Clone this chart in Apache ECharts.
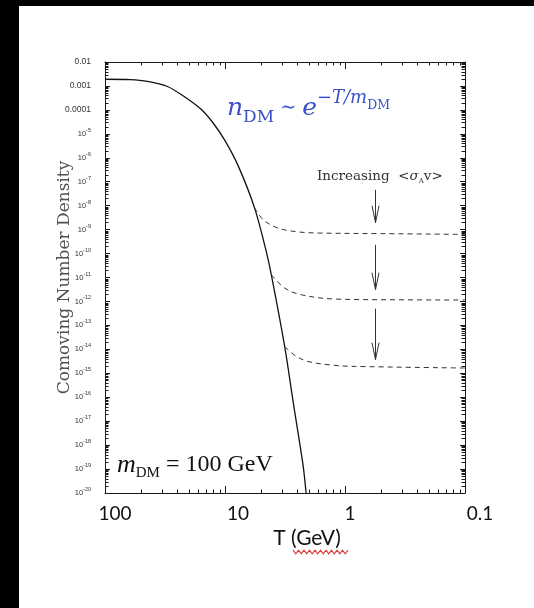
<!DOCTYPE html>
<html>
<head>
<meta charset="utf-8">
<script src="https://cdn.jsdelivr.net/npm/echarts@6/dist/echarts.min.js"></script>
<style>
  html, body { margin: 0; padding: 0; background: #000; }
  #chart { width: 534px; height: 608px; }
</style>
</head>
<body>
<div id="chart"></div>
<script>
// Equilibrium comoving number density versus temperature (GeV), m_DM = 100 GeV
const eqTemp    = [100, 61.4, 44.2, 30.2, 21.9, 15.9, 12.6, 10.0, 7.78, 5.68, 4.57, 4.11, 3.18, 2.69, 2.23, 2.11];
const eqDensity = [1.9e-3, 1.84e-3, 1.56e-3, 9.5e-4, 3.63e-4, 1.08e-4, 2.9e-5, 5.2e-6, 4.7e-7, 8.3e-9, 1.45e-10, 1.3e-11, 1.3e-14, 5.4e-17, 1.3e-19, 1.0e-20];

// Freeze-out branches, from the smallest to the largest <sigma v>
const fo1Temp    = [5.68, 4.81, 3.62, 2.49, 1.67, 0.49, 0.1];
const fo1Density = [8.3e-9, 2.6e-9, 1.16e-9, 8.1e-10, 7.2e-10, 6.8e-10, 6.3e-10];
const fo2Temp    = [4.11, 3.18, 2.31, 1.21, 0.335, 0.1];
const fo2Density = [1.3e-11, 3.6e-12, 1.9e-12, 1.26e-12, 1.17e-12, 1.15e-12];
const fo3Temp    = [3.18, 2.59, 2.03, 1.29, 0.88, 0.1];
const fo3Density = [1.3e-14, 5.4e-15, 3.1e-15, 2.2e-15, 1.95e-15, 1.66e-15];

// Arrows showing the trend with increasing cross-section
const arrowTemp  = [0.56, 0.56, 0.56];
const arrowFrom  = [4.6e-8, 2.3e-10, 5e-13];
const arrowTo    = [1.95e-9, 3.1e-12, 3.7e-15];

// Axis ticks
const tempTicks      = [100, 10, 1, 0.1];
const tempTickLabels = ['100', '10', '1', '0.1'];
const densityMinExp  = -20;
const densityMaxExp  = -2;

const lg = Math.log10;
const toPoints = (xs, ys) => xs.map((x, i) => [lg(x), lg(ys[i])]);

// Minor ticks: the plot was made in x = m/T, so minor ticks sit at T = 100/k per decade
const tickItems = [];
[100, 10, 1].forEach(top => {
  for (let k = 2; k <= 9; k++) tickItems.push([lg(top / k), densityMinExp, 0]);
});
for (let e = densityMinExp; e < densityMaxExp; e++) {
  for (let k = 2; k <= 9; k++) tickItems.push([0, lg(k * Math.pow(10, e)), 1]);
}

function densityLabel(v) {
  const e = Math.round(v);
  if (e === -2) return '0.01';
  if (e === -3) return '0.001';
  if (e === -4) return '0.0001';
  return '{b|10}{e|' + String(e) + '}';
}

const tickLabelShift = ['t0', 't1', 't2', 't3'];
function tempLabel(v) {
  const i = tempTicks.map(lg).findIndex(t => Math.abs(t - v) < 1e-6);
  if (i < 0) return '';
  return '{' + tickLabelShift[i] + '|' + tempTickLabels[i] + '}';
}

const frame = { show: true, onZero: false, lineStyle: { color: '#1a1a1a', width: 1 } };
const tempRange = { type: 'value', min: -1, max: 2, interval: 1, inverse: true };
const densRange = { type: 'value', min: densityMinExp, max: densityMaxExp, interval: 1 };
const serifBlue = '#3b50c8';

const chart = echarts.init(document.getElementById('chart'), null, { renderer: 'canvas' });

const option = {
  backgroundColor: '#ffffff',
  animation: false,
  grid: { left: 105, right: 69, top: 62, bottom: 115 },
  xAxis: [
    Object.assign({}, tempRange, {
      position: 'bottom',
      axisLine: frame,
      axisTick: { inside: true, length: 7, lineStyle: { color: '#1a1a1a' } },
      splitLine: { show: false },
      axisLabel: {
        margin: 11, formatter: tempLabel,
        color: '#111', fontFamily: 'Lato', fontSize: 19,
        rich: {
          t0: { padding: [0, 0, 0, 20], fontFamily: 'Lato', fontSize: 19, color: '#111' },
          t1: { padding: [0, 0, 0, 26], fontFamily: 'Lato', fontSize: 19, color: '#111' },
          t2: { padding: [0, 0, 0, 10], fontFamily: 'Lato', fontSize: 19, color: '#111' },
          t3: { padding: [0, 0, 0, 30], fontFamily: 'Lato', fontSize: 19, color: '#111' }
        }
      },
      name: 'T (GeV)', nameLocation: 'middle', nameGap: 32,
      nameTextStyle: { fontFamily: 'Lato', fontSize: 21, color: '#111', padding: [0, 0, 0, 44] }
    }),
    Object.assign({}, tempRange, {
      position: 'top',
      axisLine: frame,
      axisTick: { inside: true, length: 7, lineStyle: { color: '#1a1a1a' } },
      axisLabel: { show: false },
      splitLine: { show: false }
    })
  ],
  yAxis: [
    Object.assign({}, densRange, {
      position: 'left',
      axisLine: frame,
      axisTick: { inside: true, length: 5, lineStyle: { color: '#1a1a1a' } },
      splitLine: { show: false },
      axisLabel: {
        margin: 14, formatter: densityLabel,
        color: '#333', fontFamily: 'Liberation Sans', fontSize: 8.5,
        rich: {
          b: { fontFamily: 'Liberation Sans', fontSize: 7.5, lineHeight: 13, color: '#333' },
          e: { fontFamily: 'Liberation Sans', fontSize: 5.5, lineHeight: 6, verticalAlign: 'top', color: '#333' }
        }
      },
      name: 'Comoving Number Density', nameLocation: 'middle', nameGap: 31.5, nameMoveOverlap: false,
      nameTextStyle: { fontFamily: 'DejaVu Serif', fontSize: 17, color: '#505050' }
    }),
    Object.assign({}, densRange, {
      position: 'right',
      axisLine: frame,
      axisTick: { inside: true, length: 5, lineStyle: { color: '#1a1a1a' } },
      axisLabel: { show: false },
      splitLine: { show: false }
    })
  ],
  series: [
    {
      name: 'equilibrium', type: 'line', data: toPoints(eqTemp, eqDensity),
      showSymbol: false, smooth: 0.3, lineStyle: { color: '#111', width: 1.3 }
    },
    {
      name: 'freeze-out 1', type: 'line', data: toPoints(fo1Temp, fo1Density),
      showSymbol: false, smooth: 0.35, lineStyle: { color: '#333', width: 1, type: [5, 4] }
    },
    {
      name: 'freeze-out 2', type: 'line', data: toPoints(fo2Temp, fo2Density),
      showSymbol: false, smooth: 0.35, lineStyle: { color: '#333', width: 1, type: [5, 4] }
    },
    {
      name: 'freeze-out 3', type: 'line', data: toPoints(fo3Temp, fo3Density),
      showSymbol: false, smooth: 0.35, lineStyle: { color: '#333', width: 1, type: [5, 4] }
    },
    {
      name: 'arrows', type: 'custom',
      data: arrowTemp.map((t, i) => [lg(t), lg(arrowFrom[i]), lg(arrowTo[i])]),
      encode: { x: 0, y: [1, 2] },
      renderItem: function (params, api) {
        const a = api.coord([api.value(0), api.value(1)]);
        const b = api.coord([api.value(0), api.value(2)]);
        const x = Math.round(a[0]) + 0.5;
        const st = { stroke: '#333', lineWidth: 1, fill: null };
        return {
          type: 'group',
          children: [
            { type: 'line', shape: { x1: x, y1: a[1], x2: x, y2: b[1] }, style: st },
            { type: 'polyline', shape: { points: [[x - 3.5, b[1] - 17], [x, b[1]], [x + 3.5, b[1] - 17]] }, style: st }
          ]
        };
      }
    },
    {
      name: 'minor ticks', type: 'custom',
      data: tickItems,
      encode: { x: 0, y: 1 },
      renderItem: function (params, api) {
        const cs = params.coordSys;
        const st = { stroke: '#1a1a1a', lineWidth: 1 };
        const len = 3.5;
        if (api.value(2) === 0) {
          const x = Math.round(api.coord([api.value(0), densityMinExp])[0]) + 0.5;
          const yb = cs.y + cs.height, yt = cs.y;
          return { type: 'group', children: [
            { type: 'line', shape: { x1: x, y1: yb, x2: x, y2: yb - len }, style: st },
            { type: 'line', shape: { x1: x, y1: yt, x2: x, y2: yt + len }, style: st }
          ] };
        }
        const y = Math.round(api.coord([0, api.value(1)])[1]) + 0.5;
        const xl = cs.x, xr = cs.x + cs.width;
        return { type: 'group', children: [
          { type: 'line', shape: { x1: xl, y1: y, x2: xl + len, y2: y }, style: st },
          { type: 'line', shape: { x1: xr, y1: y, x2: xr - len, y2: y }, style: st }
        ] };
      }
    }
  ],
  graphic: [
    { type: 'rect', left: 0, top: 0, shape: { width: 19, height: 608 }, style: { fill: '#000' }, silent: true },
    { type: 'rect', left: 0, top: 0, shape: { width: 534, height: 6 }, style: { fill: '#000' }, silent: true },
    {
      type: 'text', x: 227, y: 108,
      style: {
        text: '{i|n}{s|DM}{o| \u223C }{i|e}{p|\u2212T/m}{q|DM}',
        fill: serifBlue, verticalAlign: 'middle',
        rich: {
          i: { fontFamily: 'DejaVu Serif', fontStyle: 'italic', fontSize: 25, lineHeight: 38, fill: serifBlue },
          s: { fontFamily: 'DejaVu Serif', fontSize: 17, lineHeight: 17, verticalAlign: 'bottom', padding: [0, 0, 1, 0], fill: serifBlue },
          o: { fontFamily: 'DejaVu Serif', fontSize: 19, lineHeight: 38, fill: serifBlue },
          p: { fontFamily: 'DejaVu Serif', fontStyle: 'italic', fontSize: 18, lineHeight: 20, verticalAlign: 'top', fill: serifBlue },
          q: { fontFamily: 'DejaVu Serif', fontSize: 12.5, lineHeight: 13, verticalAlign: 'top', padding: [10, 0, 0, 0], fill: serifBlue }
        }
      }
    },
    {
      type: 'text', x: 317, y: 176,
      style: {
        text: '{r|Increasing  <}{i|\u03C3}{s|A}{r|v>}',
        fill: '#333', verticalAlign: 'middle',
        rich: {
          r: { fontFamily: 'DejaVu Serif', fontSize: 13.5, lineHeight: 18, fill: '#333' },
          i: { fontFamily: 'DejaVu Serif', fontStyle: 'italic', fontSize: 13.5, lineHeight: 18, fill: '#333' },
          s: { fontFamily: 'DejaVu Serif', fontSize: 7, lineHeight: 7, verticalAlign: 'bottom', fill: '#333' }
        }
      }
    },
    {
      type: 'text', x: 117, y: 465,
      style: {
        text: '{i|m}{s|DM}{r| = 100 GeV}',
        fill: '#111', verticalAlign: 'middle',
        rich: {
          i: { fontFamily: 'Liberation Serif', fontStyle: 'italic', fontSize: 26, lineHeight: 32, fill: '#111' },
          s: { fontFamily: 'Liberation Serif', fontSize: 15, lineHeight: 15, verticalAlign: 'bottom', fill: '#111' },
          r: { fontFamily: 'Liberation Serif', fontSize: 24, lineHeight: 32, fill: '#111' }
        }
      }
    },
    {
      type: 'polyline', silent: true,
      shape: { points: Array.from({ length: 21 }, (_, i) => [293 + i * 2.75, 552 + (i % 2 ? 1.8 : -1.8)]) },
      style: { stroke: '#e03a3a', lineWidth: 1.2, fill: null }
    }
  ]
};

chart.setOption(option);
</script>
</body>
</html>
